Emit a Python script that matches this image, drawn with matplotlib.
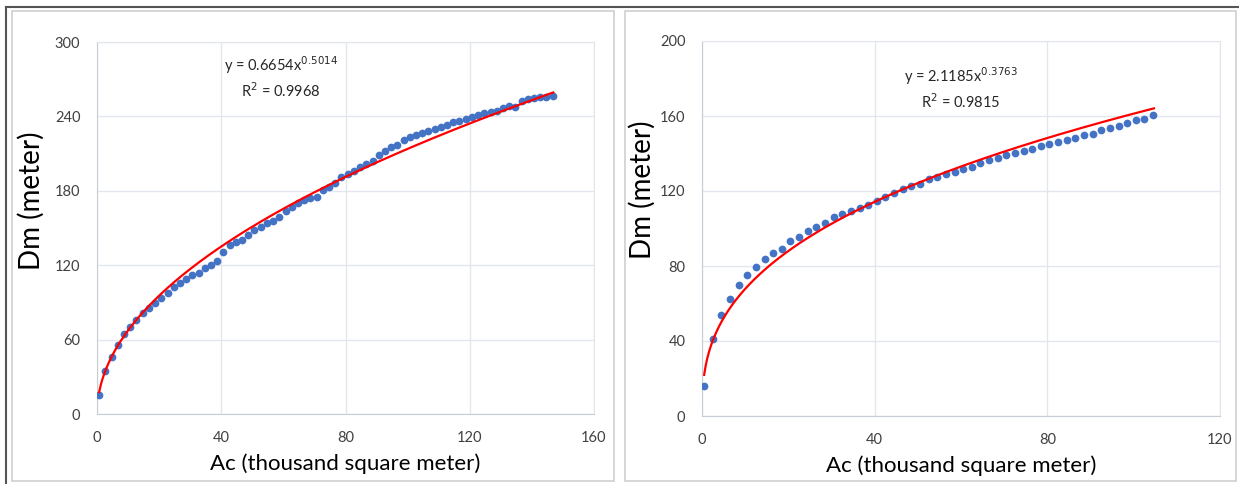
import numpy as np
import matplotlib.pyplot as plt
from matplotlib.patches import Rectangle
from matplotlib.lines import Line2D

plt.rcParams['font.family'] = ['Lato', 'DejaVu Sans']

# Left chart data (Ac in thousand m2, Dm in m)
ac_left = [0.7 + 2 * k for k in range(74)]
dm_left = [15.3, 34.9, 46.2, 55.6, 64.2, 69.9, 75.8, 81.2, 85.2, 89.2,
           93.8, 97.8, 102.2, 105.4, 109.1, 112.1, 113.9, 117.5, 120.2, 123.4,
           130.4, 136.0, 138.4, 140.4, 144.5, 148.5, 151.2, 153.9, 156.0, 158.7,
           164.1, 167.3, 170.2, 172.9, 174.5, 175.4, 181.0, 182.9, 186.3, 191.2,
           193.8, 196.3, 199.5, 201.9, 203.9, 209.0, 212.0, 215.1, 216.7, 221.0,
           223.1, 224.8, 226.4, 228.0, 229.6, 231.2, 233.1, 235.5, 236.5, 237.6,
           239.2, 241.1, 242.4, 243.5, 244.6, 246.7, 248.3, 247.8, 252.6, 254.0,
           254.5, 255.3, 255.8, 256.6]
fit_left = (0.6654, 0.5014)
r2_left = 0.9968

# Right chart data
ac_right = [0.5 + 2 * k for k in range(53)]
dm_right = [16.2, 40.9, 54.0, 62.3, 69.8, 75.0, 79.4, 83.5, 86.7, 89.3,
            93.1, 95.7, 98.8, 100.9, 103.2, 105.9, 107.8, 109.4, 111.2, 112.8,
            114.9, 117.0, 118.8, 121.1, 122.9, 124.0, 126.3, 127.5, 129.1, 130.4,
            131.8, 133.0, 135.0, 136.8, 137.8, 139.1, 140.3, 141.2, 142.5, 144.0,
            145.3, 146.2, 147.2, 148.5, 149.7, 150.6, 152.4, 153.8, 154.9, 156.5,
            157.7, 158.6, 160.4]
fit_right = (2.1185, 0.3763)
r2_right = 0.9815

fig = plt.figure(figsize=(12.39, 4.84), dpi=100)

# panel frames and outer border lines
fig.add_artist(Rectangle((12 / 1239, 3 / 484), 602 / 1239, 470 / 484, transform=fig.transFigure,
                         fill=False, edgecolor='#d0d0d0', linewidth=1.2))
fig.add_artist(Rectangle((625 / 1239, 3 / 484), 611 / 1239, 470 / 484, transform=fig.transFigure,
                         fill=False, edgecolor='#d0d0d0', linewidth=1.2))
fig.add_artist(Line2D([6 / 1239, 1], [477 / 484, 477 / 484], transform=fig.transFigure,
                      color='#555555', linewidth=1.5))
fig.add_artist(Line2D([6 / 1239, 6 / 1239], [0, 477 / 484], transform=fig.transFigure,
                      color='#555555', linewidth=1.5))


def draw(ax, xs, ys, fit, r2, xmax, ymax, ystep, xstep, text_xy, ylab_xy):
    a, b = fit
    xf = np.linspace(xs[0], xs[-1] + 0.2, 300)
    yf = a * (xf * 1000) ** b
    ax.scatter(xs, ys, s=31, color='#4472C4', zorder=3, linewidths=0)
    ax.plot(xf, yf, color='#FF0000', linewidth=1.6, zorder=4)
    ax.set_xlim(0, xmax)
    ax.set_ylim(0, ymax)
    ax.set_xticks(np.arange(0, xmax + 1, xstep))
    ax.set_yticks(np.arange(0, ymax + 1, ystep))
    ax.grid(True, color='#e3e6ec', linewidth=1.0)
    ax.set_axisbelow(True)
    for s in ['top', 'right']:
        ax.spines[s].set_color('#e3e6ec')
    for s in ['left', 'bottom']:
        ax.spines[s].set_color('#c8ccd4')
    ax.tick_params(length=0, labelsize=10.5, labelcolor='#404040', pad=12)
    ax.set_xlabel('Ac (thousand square meter)', fontsize=16, labelpad=6)
    ax.set_ylabel('Dm (meter)', fontsize=20)
    ax.yaxis.set_label_coords(*ylab_xy)
    ax.text(text_xy[0], text_xy[1], f'y = {a}x$^{{{b}}}$\nR$^2$ = {r2}', ha='center', va='center',
            fontsize=10.5, color='#262626', linespacing=1.35, transform=ax.transAxes)


ax1 = fig.add_axes([97 / 1239, 70 / 484, 497 / 1239, 372 / 484])
draw(ax1, ac_left, dm_left, fit_left, r2_left, 160, 300, 60, 40, (0.37, 0.905), (-0.105, 0.573))

ax2 = fig.add_axes([702 / 1239, 68 / 484, 518 / 1239, 375 / 484])
draw(ax2, ac_right, dm_right, fit_right, r2_right, 120, 200, 40, 40, (0.5, 0.875), (-0.089, 0.603))

plt.savefig('out.png', dpi=100)
